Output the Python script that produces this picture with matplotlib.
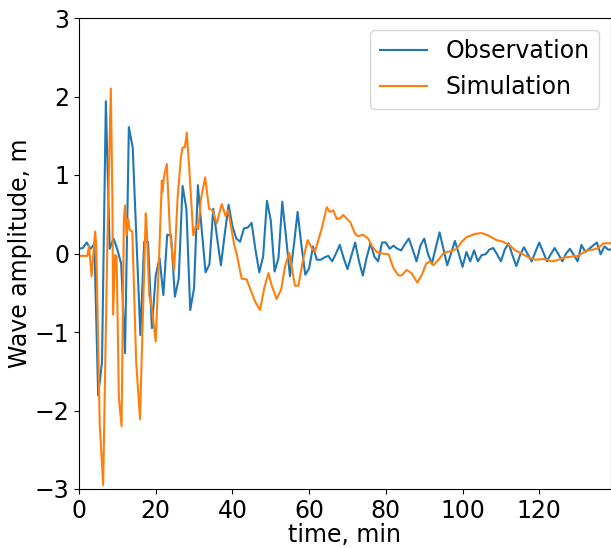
import numpy as np
import matplotlib.pyplot as plt

# Observation: one sample per minute
obs_t = np.arange(0, 140)
obs_v = [0.06, 0.07, 0.14, 0.06, 0.12, -1.81, -1.38, 1.94, 0.06, 0.19,
         0.05, -0.13, -1.27, 1.61, 1.35, 0.15, -1.04, 0.15, 0.15, -0.95,
         -0.28, -0.06, -0.53, 0.24, 0.23, -0.55, -0.32, 0.86, 0.57, -0.72,
         -0.44, 0.87, 0.30, -0.24, -0.14, 0.57, 0.20, -0.15, 0.25, 0.62,
         0.35, 0.19, 0.15, 0.32, 0.33, 0.39, 0.05, -0.24, -0.04, 0.67,
         0.42, -0.23, -0.06, 0.66, 0.20, -0.29, 0.10, 0.53, 0.10, -0.27,
         -0.19, 0.09, -0.08, -0.08, -0.05, -0.03, -0.10, 0.00, 0.11, -0.06,
         -0.20, -0.03, 0.14, -0.10, -0.28, -0.05, 0.13, -0.04, -0.10, 0.14,
         0.14, 0.06, 0.10, 0.06, 0.04, 0.12, 0.19, 0.05, -0.10, 0.10,
         0.19, -0.01, -0.13, 0.07, 0.27, 0.06, -0.15, 0.00, 0.16, 0.00,
         -0.17, 0.02, -0.10, 0.04, -0.10, -0.02, -0.01, 0.05, 0.07, -0.01,
         -0.10, 0.05, 0.13, -0.02, -0.16, -0.02, 0.08, -0.01, -0.10, 0.02,
         0.14, 0.02, -0.10, -0.01, 0.07, -0.01, -0.10, 0.00, 0.06, -0.02,
         -0.10, 0.11, 0.02, 0.06, 0.10, 0.14, -0.01, 0.09, 0.05, 0.05]

# Simulation (read at the turning points)
sim_t = [0.0, 2.2, 2.6, 3.3, 4.2, 4.5, 5.4, 6.3, 7.4, 8.3,
         8.7, 8.9, 9.4, 9.8, 10.4, 11.1, 11.7, 12.0, 12.4, 12.8,
         13.2, 13.9, 14.9, 15.9, 17.4, 17.7, 18.3, 19.0, 20.0, 20.9,
         21.6, 21.7, 22.2, 22.9, 23.7, 24.8, 25.7, 26.6, 27.0, 27.6,
         28.1, 28.7, 29.8, 30.5, 31.1, 31.8, 32.9, 33.9, 34.8, 35.9,
         37.2, 38.2, 38.9, 40.5, 41.1, 42.4, 43.7, 45.9, 47.2, 48.3,
         49.4, 50.2, 51.5, 52.7, 53.7, 54.8, 56.3, 57.2, 58.5, 59.6,
         60.7, 61.5, 63.3, 64.6, 65.4, 66.3, 67.2, 68.1, 68.9, 70.7,
         72.0, 72.8, 74.0, 75.4, 76.3, 77.6, 78.9, 80.7, 82.0, 83.3,
         84.1, 85.4, 86.7, 88.2, 89.4, 90.5, 91.5, 92.4, 93.7, 95.0,
         95.9, 97.2, 98.5, 99.8, 101.1, 103.3, 105.0, 106.7, 108.9, 110.6,
         112.4, 113.7, 115.0, 117.2, 118.9, 121.1, 123.3, 125.0, 126.7, 128.5,
         130.2, 131.1, 132.4, 134.1, 135.4, 136.7, 138.7]
sim_v = [-0.03, -0.03, 0.10, -0.29, 0.28, 0.10, -2.17, -2.95, 0.15, 2.10,
         0.70, -0.78, -0.02, -0.04, -1.84, -2.20, 0.44, 0.61, 0.23, 0.44,
         0.30, 0.28, -1.37, -2.11, 0.51, 0.28, -0.53, -0.70, -1.12, -0.02,
         0.93, 0.78, 0.99, 1.14, 0.28, -0.21, 0.70, 1.24, 1.35, 1.35,
         1.54, 1.12, 0.23, 0.36, 0.31, 0.70, 0.97, 0.57, 0.55, 0.38,
         0.63, 0.48, 0.55, 0.10, 0.00, -0.32, -0.33, -0.61, -0.72, -0.44,
         -0.25, -0.40, -0.58, -0.46, -0.17, 0.01, -0.41, -0.41, -0.06, 0.17,
         0.07, 0.02, 0.32, 0.59, 0.53, 0.55, 0.44, 0.45, 0.49, 0.40,
         0.25, 0.22, 0.24, 0.19, 0.10, 0.02, 0.00, -0.01, -0.19, -0.28,
         -0.28, -0.21, -0.25, -0.37, -0.27, -0.13, -0.10, -0.15, -0.08, 0.00,
         0.02, 0.03, 0.06, 0.15, 0.21, 0.25, 0.26, 0.23, 0.17, 0.15,
         0.10, 0.04, 0.01, -0.05, -0.08, -0.07, -0.10, -0.08, -0.05, -0.04,
         -0.03, 0.00, 0.04, 0.05, 0.07, 0.13, 0.13]

plt.rcParams['font.size'] = 17

fig = plt.figure(figsize=(6.11, 5.48), dpi=100)
ax = fig.add_axes([79/611, 59/548, 532/611, 471/548])

ax.plot(obs_t, obs_v, label='Observation')
ax.plot(sim_t, sim_v, label='Simulation')

ax.set_xlim(0, 138.7)
ax.set_ylim(-3, 3)
ax.set_xlabel('time, min', labelpad=0)
ax.set_ylabel('Wave amplitude, m', labelpad=2)
ax.legend(loc='upper right')

fig.savefig('out.png', dpi=100)
